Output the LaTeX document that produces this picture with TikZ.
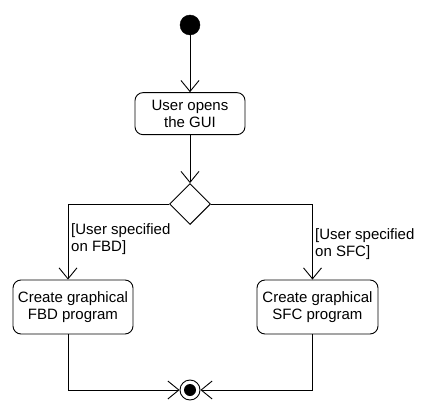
\documentclass[tikz,border=0pt]{standalone}
\usepackage{fontspec}
\setmainfont{Liberation Sans}
\usepackage{tikz}
\usetikzlibrary{shapes.geometric, arrows.meta, positioning}
\tikzstyle{startnode} = [circle, fill=black, draw=black, minimum size=20pt, inner sep=0pt]
\tikzstyle{finalnode} = [circle, draw=black, line width=0.9pt, minimum size=20pt, inner sep=0pt]
\tikzstyle{actbox} = [rectangle, rounded corners=8pt, draw=black, line width=0.9pt,
  minimum height=42pt, align=center, font=\fontsize{15}{17}\selectfont, inner sep=2pt]
\tikzstyle{decision} = [diamond, draw=black, line width=0.9pt, minimum width=41pt, minimum height=41pt, inner sep=0pt]
\tikzstyle{guard} = [align=left, font=\fontsize{15}{17}\selectfont, inner sep=0pt, anchor=north west]
\tikzstyle{arrow} = [line width=0.9pt, -{Straight Barb[length=11pt, width=18pt]}]

\begin{document}
\begin{tikzpicture}[x=1pt, y=1pt]
  \useasboundingbox (0,0) rectangle (431,416);
  \node (start) [startnode] at (190,391) {};
  \node (gui) [actbox, minimum width=110pt, below=57pt of start] {User opens\\the GUI};
  \node (dec) [decision, below=48pt of gui] {};
  \node (fbd) [actbox, minimum width=120pt, minimum height=54pt] at (73,109) {Create graphical\\FBD program};
  \node (sfc) [actbox, minimum width=121pt, minimum height=54pt] at (317.5,109) {Create graphical\\SFC program};
  \node (stop) [finalnode] at (190,26) {};
  \fill (stop.center) circle (6pt);

  \node (gfbd) [guard] at (71,193) {[User specified\\on FBD]};
  \node (gsfc) [guard] at (315,188) {[User specified\\on SFC]};

  \draw[arrow] (start)--(gui);
  \draw[arrow] (gui)--(dec);
  \draw[arrow] (dec.west) -| ([xshift=-5pt]fbd.north);
  \draw[arrow] (dec.east) -| ([xshift=-5pt]sfc.north);
  \draw[arrow] ([xshift=-5pt]fbd.south) |- (stop.west);
  \draw[arrow] ([xshift=-5pt]sfc.south) |- (stop.east);
\end{tikzpicture}
\end{document}
